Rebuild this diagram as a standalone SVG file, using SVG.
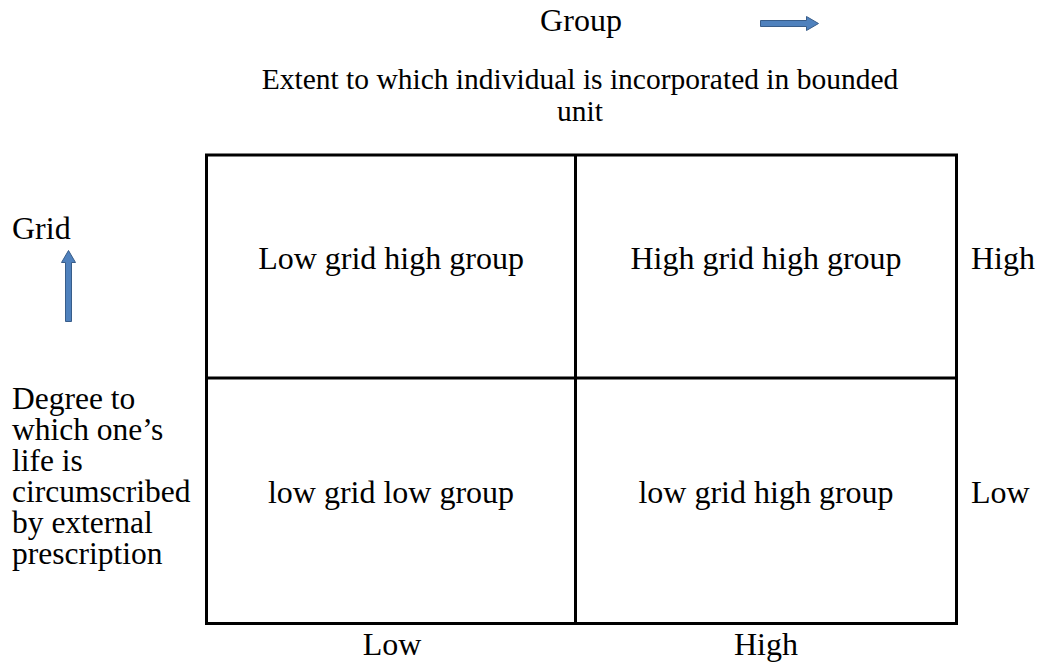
<svg xmlns="http://www.w3.org/2000/svg" width="1038" height="665" viewBox="0 0 1038 665">
<style>
  text { font-family: "Liberation Serif", "Times New Roman", serif; font-size: 32px; fill: #000; }
  .c { text-anchor: middle; }
  .sub { font-size: 29.5px; }
  .side { font-size: 31.5px; }
  .grid { stroke: #000; stroke-width: 3; fill: none; }
  .arrow { fill: #4F81BD; stroke: #385D8A; stroke-width: 1; }
</style>
<rect width="1038" height="665" fill="#fff"/>
<g id="header">
  <text class="c" x="581" y="31">Group</text>
  <text class="c sub" x="580" y="89">Extent to which individual is incorporated in bounded</text>
  <text class="c sub" x="580" y="121">unit</text>
</g>
<g id="connectors">
  <path class="arrow" d="M760.5,20.5 L806.5,20.5 L806.5,16.5 L818.5,23.5 L806.5,30.5 L806.5,26.5 L760.5,26.5 Z"/>
  <path class="arrow" d="M65.5,321.5 L65.5,262.5 L61.5,262.5 L68.5,250.5 L75.5,262.5 L71.5,262.5 L71.5,321.5 Z"/>
</g>
<g id="grid-axis">
  <text x="12" y="239">Grid</text>
  <text class="side" x="12" y="409">Degree to</text>
  <text class="side" x="12" y="440">which one’s</text>
  <text class="side" x="12" y="471">life is</text>
  <text class="side" x="12" y="502">circumscribed</text>
  <text class="side" x="12" y="533">by external</text>
  <text class="side" x="12" y="564">prescription</text>
</g>
<g id="table">
  <rect class="grid" x="206.5" y="155" width="750" height="468.5"/>
  <line class="grid" x1="575.5" y1="155" x2="575.5" y2="623.5"/>
  <line class="grid" x1="206.5" y1="378" x2="956.5" y2="378"/>
</g>
<g id="cell-lghg"><text class="c" x="391" y="269">Low grid high group</text></g>
<g id="cell-hghg"><text class="c" x="766" y="269">High grid high group</text></g>
<g id="cell-lglg"><text class="c" x="391" y="503">low grid low group</text></g>
<g id="cell-lghg2"><text class="c" x="766" y="503">low grid high group</text></g>
<g id="labels">
  <text x="971" y="269">High</text>
  <text x="971" y="503">Low</text>
  <text class="c" x="392" y="655">Low</text>
  <text class="c" x="766" y="655">High</text>
</g>
</svg>
